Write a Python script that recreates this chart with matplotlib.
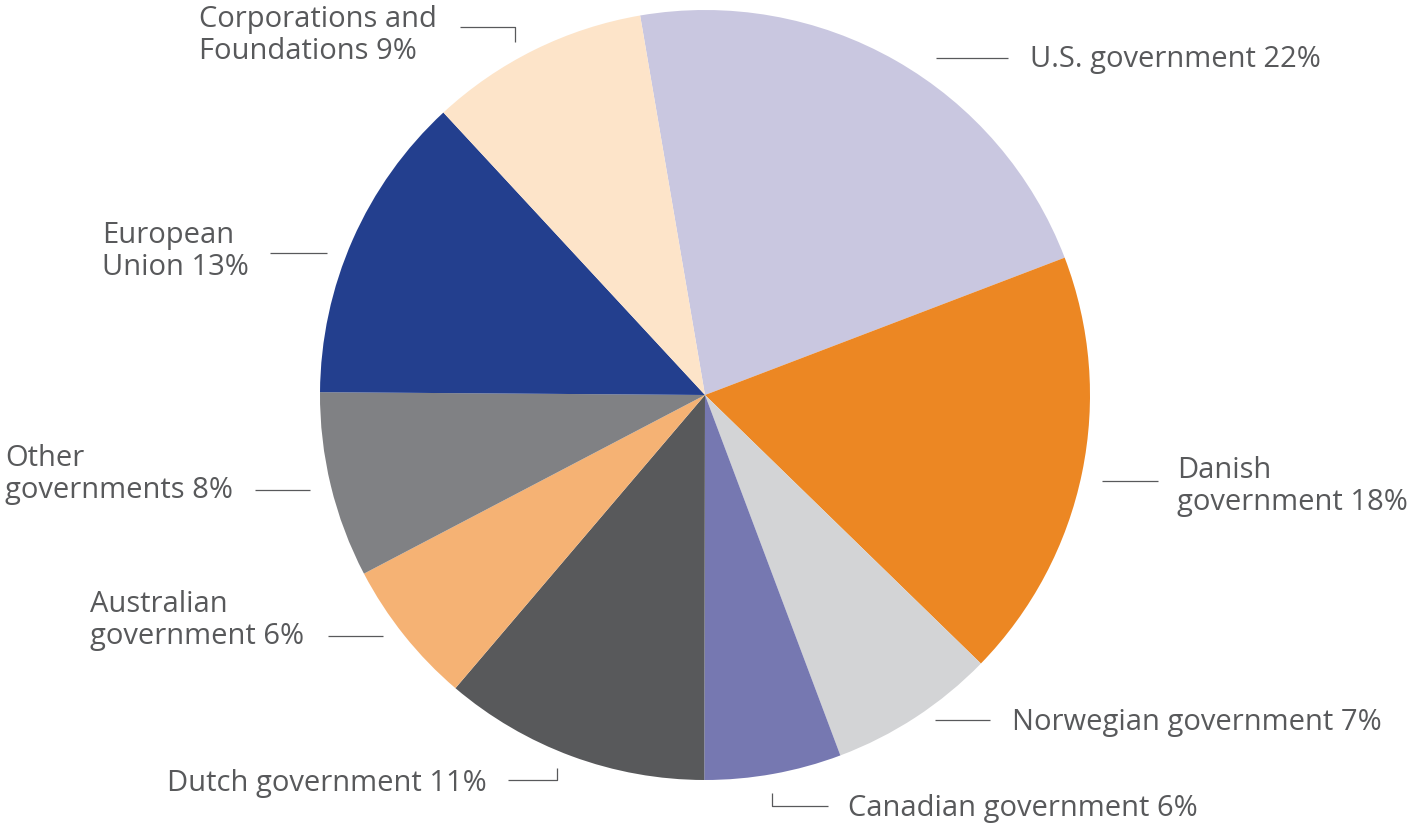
import matplotlib
matplotlib.use("Agg")
import matplotlib.pyplot as plt

# funding shares (clockwise from the top)
sources = [
    "U.S. government", "Danish government", "Norwegian government",
    "Canadian government", "Dutch government", "Australian government",
    "Other governments", "European Union", "Corporations and Foundations",
]
shares = [21.9, 18.1, 7.0, 5.75, 11.2, 6.1, 7.8, 13.0, 9.2]
label_texts = [
    "U.S. government 22%", "Danish\ngovernment 18%", "Norwegian government 7%",
    "Canadian government 6%", "Dutch government 11%", "Australian\ngovernment 6%",
    "Other\ngovernments 8%", "European\nUnion 13%", "Corporations and\nFoundations 9%",
]
colors = ["#C9C7E0", "#EC8723", "#D3D4D6", "#7678B1", "#58595B",
          "#F5B274", "#808184", "#233F8E", "#FDE4C9"]

TXT = "#58595B"
W, H = 1409, 825
fig = plt.figure(figsize=(W / 100, H / 100), dpi=100)

# pie axes: centre (705, 395) px, radius 385 px
cx, cy, r = 705, 395, 385
ax = fig.add_axes([(cx - r) / W, (H - cy - r) / H, 2 * r / W, 2 * r / H])
ax.pie(shares, colors=colors, startangle=99.7, counterclock=False,
       radius=1, wedgeprops=dict(linewidth=0))
ax.set_xlim(-1, 1)
ax.set_ylim(-1, 1)
ax.set_aspect("equal")
ax.axis("off")

# overlay in pixel coordinates for the labels and leader lines
ov = fig.add_axes([0, 0, 1, 1], facecolor="none")
ov.set_xlim(0, W)
ov.set_ylim(H, 0)
ov.axis("off")

# (leader polyline, text x, last-line baseline y)
layout = [
    ([(936, 58), (1008, 58)], 1030, 67),
    ([(1102, 481), (1158, 481)], 1177, 510),
    ([(935, 720), (990, 720)], 1012, 730),
    ([(772, 793), (772, 806), (828, 806)], 848, 816),
    ([(557, 768), (557, 780), (508, 780)], 167, 791),
    ([(328, 636), (383, 636)], 90, 644),
    ([(255, 490), (310, 490)], 5, 498),
    ([(270, 253), (327, 253)], 102, 275),
    ([(460, 27), (515, 27), (515, 42)], 199, 59),
]
for txt, (pts, tx, ty) in zip(label_texts, layout):
    xs, ys = zip(*pts)
    ov.plot(xs, ys, color=TXT, lw=0.9, solid_capstyle="butt")
    ov.text(tx, ty, txt, ha="left", va="baseline", color=TXT, fontsize=21,
            family=["Open Sans", "DejaVu Sans"], linespacing=1.14)

fig.savefig("out.png", dpi=100)
